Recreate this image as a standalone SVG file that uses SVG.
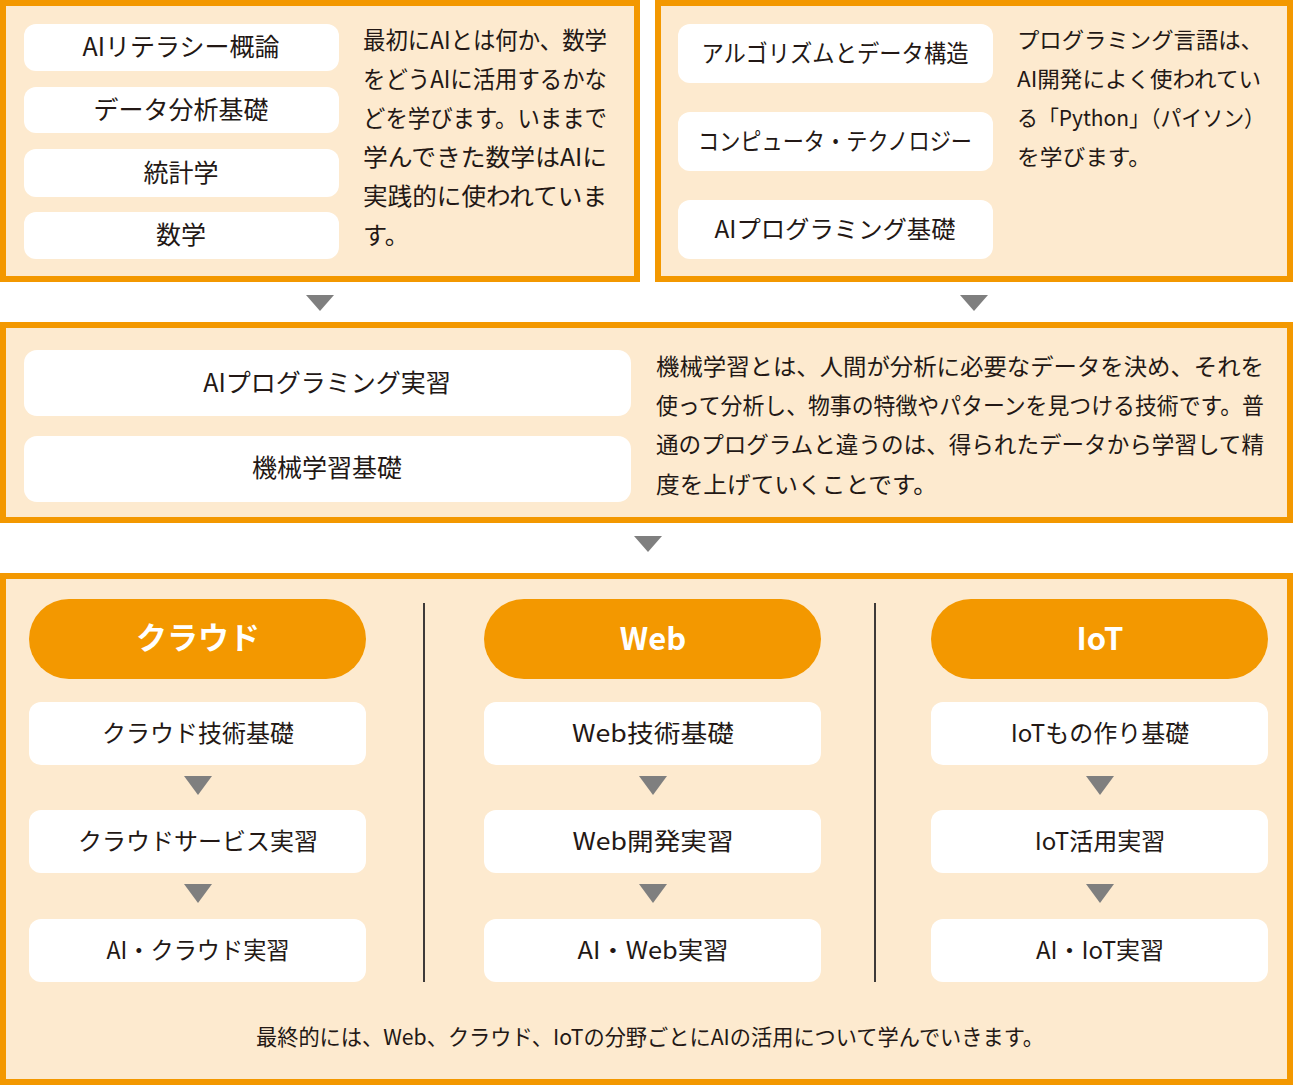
<svg xmlns="http://www.w3.org/2000/svg" width="1293" height="1088" viewBox="0 0 1293 1088">
<defs>
<style>
.panel{fill:#FDEACF;stroke:#F39800;stroke-width:6}
.box{fill:#FFFFFF}
.pill{fill:#F39800}
.tri{fill:#7F7F7F}
.div{stroke:#3E3A39;stroke-width:2}
text{font-family:"Noto Sans CJK JP","Noto Sans",sans-serif;fill:#231815}
.lbl{font-size:24px;text-anchor:middle}
.lbl25{font-size:25px;text-anchor:middle}
.para{font-size:24px}
.para23{font-size:23px}
.para22{font-size:22px}
.head{font-size:31px;font-weight:700;fill:#FFFFFF;text-anchor:middle}
.foot{font-size:22px;text-anchor:middle}
</style>
</defs>
<rect width="1293" height="1088" fill="#FFFFFF"/>

<g id="panel-top-left">
<rect class="panel" x="3" y="3" width="634" height="276"/>
</g>
<g id="panel-top-right">
<rect class="panel" x="658" y="3" width="632" height="276"/>
</g>
<g id="panel-middle">
<rect class="panel" x="3" y="325" width="1287" height="195"/>
</g>
<g id="panel-bottom">
<rect class="panel" x="3" y="576" width="1287" height="506"/>
</g>

<g id="node-ai-literacy"><rect class="box" x="24" y="24" width="315" height="47" rx="12"/><text class="lbl25" x="181" y="56">AIリテラシー概論</text></g>
<g id="node-data-analysis"><rect class="box" x="24" y="87" width="315" height="46" rx="12"/><text class="lbl25" x="181" y="119">データ分析基礎</text></g>
<g id="node-statistics"><rect class="box" x="24" y="149" width="315" height="48" rx="12"/><text class="lbl25" x="181" y="182">統計学</text></g>
<g id="node-math"><rect class="box" x="24" y="212" width="315" height="47" rx="12"/><text class="lbl25" x="181" y="244">数学</text></g>

<g id="text-top-left">
<text class="para" x="363" y="49" textLength="244" lengthAdjust="spacingAndGlyphs">最初にAIとは何か、数学</text>
<text class="para" x="363" y="88" textLength="244" lengthAdjust="spacingAndGlyphs">をどうAIに活用するかな</text>
<text class="para" x="363" y="127" textLength="244" lengthAdjust="spacingAndGlyphs">どを学びます。いままで</text>
<text class="para" x="363" y="166" textLength="244" lengthAdjust="spacingAndGlyphs">学んできた数学はAIに</text>
<text class="para" x="363" y="205" textLength="244" lengthAdjust="spacingAndGlyphs">実践的に使われていま</text>
<text class="para" x="363" y="244" textLength="46" lengthAdjust="spacingAndGlyphs">す。</text>
</g>

<g id="node-algorithm"><rect class="box" x="678" y="24" width="315" height="59" rx="12"/><text class="lbl" x="835" y="62" textLength="267" lengthAdjust="spacingAndGlyphs">アルゴリズムとデータ構造</text></g>
<g id="node-computer-tech"><rect class="box" x="678" y="112" width="315" height="59" rx="12"/><text class="lbl" x="835" y="150" textLength="274" lengthAdjust="spacingAndGlyphs">コンピュータ・テクノロジー</text></g>
<g id="node-ai-prog-basic"><rect class="box" x="678" y="200" width="315" height="59" rx="12"/><text class="lbl" x="835" y="238" textLength="241" lengthAdjust="spacingAndGlyphs">AIプログラミング基礎</text></g>

<g id="text-top-right">
<text class="para22" x="1017" y="48" textLength="246" lengthAdjust="spacingAndGlyphs">プログラミング言語は、</text>
<text class="para22" x="1017" y="87" textLength="244" lengthAdjust="spacingAndGlyphs">AI開発によく使われてい</text>
<text class="para22" x="1017" y="126" textLength="248" lengthAdjust="spacingAndGlyphs">る「Python」（パイソン）</text>
<text class="para22" x="1017" y="165" textLength="134" lengthAdjust="spacingAndGlyphs">を学びます。</text>
</g>

<g id="node-ai-prog-practice"><rect class="box" x="24" y="350" width="607" height="66" rx="13"/><text class="lbl25" x="327" y="392">AIプログラミング実習</text></g>
<g id="node-ml-basic"><rect class="box" x="24" y="436" width="607" height="66" rx="13"/><text class="lbl25" x="327" y="477">機械学習基礎</text></g>

<g id="text-middle">
<text class="para23" x="656" y="375" textLength="608" lengthAdjust="spacingAndGlyphs">機械学習とは、人間が分析に必要なデータを決め、それを</text>
<text class="para23" x="656" y="414" textLength="608" lengthAdjust="spacingAndGlyphs">使って分析し、物事の特徴やパターンを見つける技術です。普</text>
<text class="para23" x="656" y="453" textLength="608" lengthAdjust="spacingAndGlyphs">通のプログラムと違うのは、得られたデータから学習して精</text>
<text class="para23" x="656" y="493" textLength="281" lengthAdjust="spacingAndGlyphs">度を上げていくことです。</text>
</g>

<g id="head-cloud"><rect class="pill" x="29" y="599" width="337" height="80" rx="40"/><text class="head" x="198" y="649" font-size="30">クラウド</text></g>
<g id="head-web"><rect class="pill" x="484" y="599" width="337" height="80" rx="40"/><text class="head" x="653" y="650">Web</text></g>
<g id="head-iot"><rect class="pill" x="931" y="599" width="337" height="80" rx="40"/><text class="head" x="1100" y="650">IoT</text></g>

<g id="node-cloud-basic"><rect class="box" x="29" y="702" width="337" height="63" rx="12"/><text class="lbl" x="198" y="742">クラウド技術基礎</text></g>
<g id="node-cloud-service"><rect class="box" x="29" y="810" width="337" height="63" rx="12"/><text class="lbl" x="198" y="850">クラウドサービス実習</text></g>
<g id="node-ai-cloud"><rect class="box" x="29" y="919" width="337" height="63" rx="12"/><text class="lbl" x="198" y="959" textLength="183" lengthAdjust="spacingAndGlyphs">AI・クラウド実習</text></g>

<g id="node-web-basic"><rect class="box" x="484" y="702" width="337" height="63" rx="12"/><text class="lbl" x="653" y="742" textLength="162" lengthAdjust="spacingAndGlyphs">Web技術基礎</text></g>
<g id="node-web-dev"><rect class="box" x="484" y="810" width="337" height="63" rx="12"/><text class="lbl" x="653" y="850" textLength="161" lengthAdjust="spacingAndGlyphs">Web開発実習</text></g>
<g id="node-ai-web"><rect class="box" x="484" y="919" width="337" height="63" rx="12"/><text class="lbl" x="653" y="959" textLength="151" lengthAdjust="spacingAndGlyphs">AI・Web実習</text></g>

<g id="node-iot-basic"><rect class="box" x="931" y="702" width="337" height="63" rx="12"/><text class="lbl" x="1100" y="742">IoTもの作り基礎</text></g>
<g id="node-iot-use"><rect class="box" x="931" y="810" width="337" height="63" rx="12"/><text class="lbl" x="1100" y="850">IoT活用実習</text></g>
<g id="node-ai-iot"><rect class="box" x="931" y="919" width="337" height="63" rx="12"/><text class="lbl" x="1100" y="959">AI・IoT実習</text></g>

<g id="dividers">
<line class="div" x1="424" y1="603" x2="424" y2="982"/>
<line class="div" x1="875" y1="603" x2="875" y2="982"/>
</g>

<g id="connectors">
<polygon class="tri" points="306,295 334,295 320,311"/>
<polygon class="tri" points="960,295 988,295 974,311"/>
<polygon class="tri" points="634,536 662,536 648,552"/>
<polygon class="tri" points="184,776 212,776 198,795"/>
<polygon class="tri" points="184,884 212,884 198,903"/>
<polygon class="tri" points="639,776 667,776 653,795"/>
<polygon class="tri" points="639,884 667,884 653,903"/>
<polygon class="tri" points="1086,776 1114,776 1100,795"/>
<polygon class="tri" points="1086,884 1114,884 1100,903"/>
</g>

<g id="footer">
<text class="foot" x="650" y="1045" textLength="788" lengthAdjust="spacingAndGlyphs">最終的には、Web、クラウド、IoTの分野ごとにAIの活用について学んでいきます。</text>
</g>
</svg>
